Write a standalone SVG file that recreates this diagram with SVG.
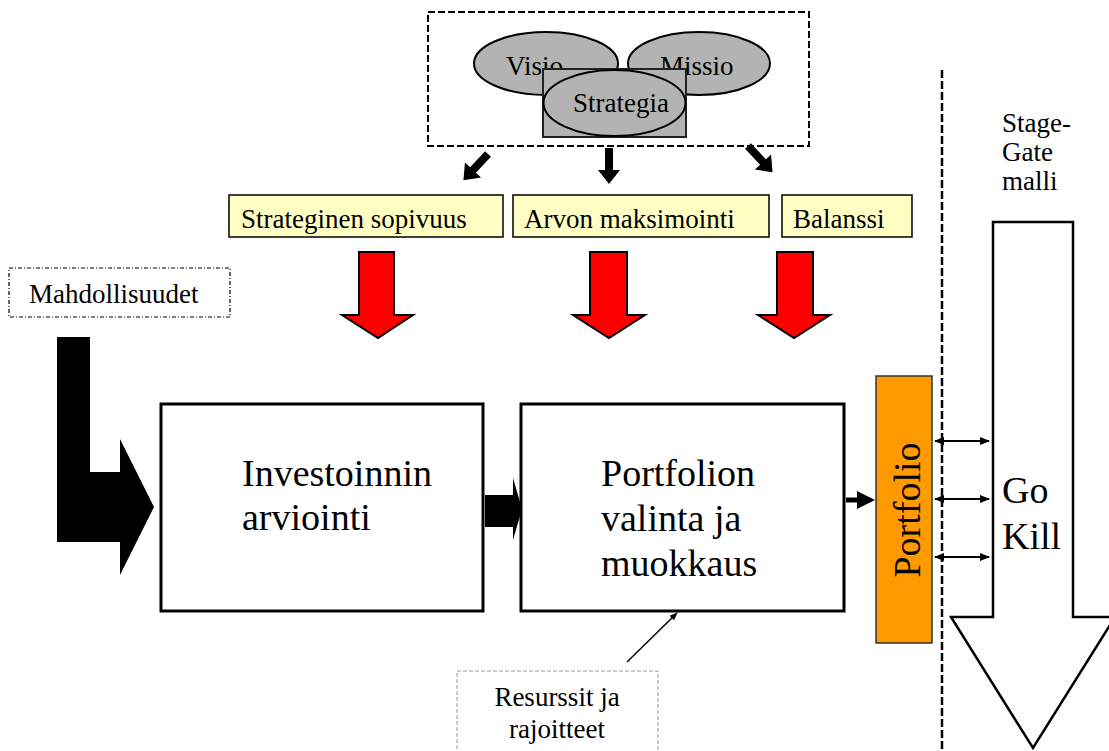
<svg xmlns="http://www.w3.org/2000/svg" width="1109" height="751" viewBox="0 0 1109 751" font-family="'Liberation Serif', 'Times New Roman', 'DejaVu Serif', serif">
<style>
text{font-family:'Liberation Serif','Times New Roman','DejaVu Serif',serif;fill:#000}
.s{font-size:27px}
.b{font-size:38px}
.ell{fill:#b3b3b3;stroke:#000;stroke-width:2}
.yb{fill:#ffffc4;stroke:#000;stroke-width:1.5}
.red{fill:#ff0000;stroke:#000;stroke-width:2;stroke-linejoin:miter}
.box{fill:#fff;stroke:#000;stroke-width:3}
</style>
<defs>
<marker id="ah" viewBox="0 0 10 10" refX="9" refY="5" markerWidth="10" markerHeight="10" markerUnits="userSpaceOnUse" orient="auto-start-reverse">
<path d="M0,1 L10,5 L0,9 Z" fill="#000"/>
</marker>
<marker id="sm" viewBox="0 0 10 10" refX="9" refY="5" markerWidth="8" markerHeight="8" markerUnits="userSpaceOnUse" orient="auto">
<path d="M0,1 L10,5 L0,9 Z" fill="#000"/>
</marker>
<polygon id="blk" points="-4,0 4,0 4,22 11,22 0,36 -11,22 -4,22"/>
</defs>

<g id="strategy-group">
<rect x="428" y="12" width="381" height="134" fill="none" stroke="#000" stroke-width="2" stroke-dasharray="7,3"/>
<ellipse class="ell" cx="546" cy="63.5" rx="72" ry="31.5"/>
<ellipse class="ell" cx="699" cy="63.5" rx="71" ry="31.5"/>
<text class="s" x="506" y="75">Visio</text>
<text class="s" x="660" y="75">Missio</text>
<rect x="543" y="69" width="143" height="68" fill="#b3b3b3" stroke="#222" stroke-width="2"/>
<ellipse class="ell" cx="614.5" cy="103" rx="71" ry="33"/>
<text class="s" x="573" y="112">Strategia</text>
</g>

<g id="criteria">
<g id="strateginen-sopivuus"><rect class="yb" x="229" y="195" width="274" height="42"/><text class="s" x="241" y="228">Strateginen sopivuus</text></g>
<g id="arvon-maksimointi"><rect class="yb" x="513" y="195" width="256" height="42"/><text class="s" x="524" y="228">Arvon maksimointi</text></g>
<g id="balanssi"><rect class="yb" x="782" y="195" width="130" height="42"/><text class="s" x="793" y="228">Balanssi</text></g>
</g>

<g id="mahdollisuudet">
<rect x="9" y="268" width="221" height="49" fill="#fff" stroke="#000" stroke-width="1.2" stroke-dasharray="4,2,1,2"/>
<text class="s" x="29" y="303">Mahdollisuudet</text>
</g>

<g id="investoinnin-arviointi">
<rect class="box" x="161" y="404" width="322" height="207"/>
<text class="b" x="242" y="486">Investoinnin</text>
<text class="b" x="242" y="530">arviointi</text>
</g>

<g id="portfolion-valinta">
<rect class="box" x="521" y="404" width="323" height="207"/>
<text class="b" x="601" y="486">Portfolion</text>
<text class="b" x="601" y="531">valinta ja</text>
<text class="b" x="601" y="576">muokkaus</text>
</g>

<g id="portfolio">
<rect x="876" y="376" width="56" height="267" fill="#ff9900" stroke="#333" stroke-width="1.5"/>
<text class="b" transform="translate(920,510) rotate(-90)" text-anchor="middle">Portfolio</text>
</g>

<g id="stage-gate">
<text class="s" x="1002" y="132">Stage-</text>
<text class="s" x="1002" y="161">Gate</text>
<text class="s" x="1002" y="190">malli</text>
<polygon points="993,222 1073,222 1073,617 1115,617 1033,748 951,617 993,617" fill="#fff" stroke="#000" stroke-width="2.5" stroke-linejoin="miter"/>
<text class="b" x="1002" y="503">Go</text>
<text class="b" x="1002" y="549">Kill</text>
</g>

<g id="resurssit">
<rect x="457" y="671" width="201" height="90" fill="#fff" stroke="#999" stroke-width="1" stroke-dasharray="4,2"/>
<text class="s" x="557" y="706" text-anchor="middle">Resurssit ja</text>
<text class="s" x="557" y="738" text-anchor="middle">rajoitteet</text>
</g>

<g id="connectors">
<line x1="942" y1="70" x2="942" y2="751" stroke="#000" stroke-width="2.5" stroke-dasharray="8,3"/>
<use href="#blk" transform="translate(609,148)"/>
<use href="#blk" transform="translate(488,154) rotate(43)"/>
<use href="#blk" transform="translate(748,146) rotate(-43)"/>
<polygon class="red" points="359,252 394,252 394,315 413,315 378,338 342,315 359,315"/>
<polygon class="red" points="590,252 627,252 627,315 645,315 609,338 573,315 590,315"/>
<polygon class="red" points="777,252 813,252 813,315 830,315 794,338 758,315 777,315"/>
<polygon points="57,337 90,337 90,472 120,472 120,439 154,507 120,575 120,542 57,542" fill="#000"/>
<polygon points="485,495 513,495 513,478 522,509 513,540 513,527 485,527" fill="#000"/>
<line x1="846" y1="500" x2="858" y2="500" stroke="#000" stroke-width="5"/>
<polygon points="857,491 875,500 857,509" fill="#000"/>
<line x1="935" y1="441" x2="989" y2="441" stroke="#000" stroke-width="2" marker-start="url(#ah)" marker-end="url(#ah)"/>
<line x1="935" y1="499" x2="989" y2="499" stroke="#000" stroke-width="2" marker-start="url(#ah)" marker-end="url(#ah)"/>
<line x1="935" y1="557" x2="989" y2="557" stroke="#000" stroke-width="2" marker-start="url(#ah)" marker-end="url(#ah)"/>
<line x1="627" y1="662" x2="677" y2="613" stroke="#000" stroke-width="1.5" marker-end="url(#sm)"/>
</g>
</svg>
